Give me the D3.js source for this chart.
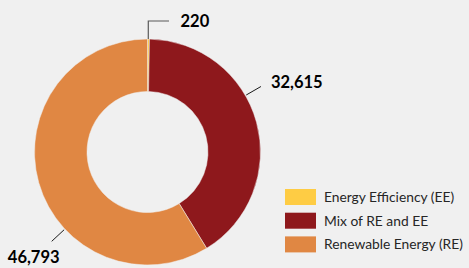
<!DOCTYPE html>
<html>
<head>
<meta charset="utf-8">
<script src="https://cdn.jsdelivr.net/npm/d3@7"></script>
<style>
  body { margin: 0; background: #f0f0f0; }
  svg { display: block; }
</style>
</head>
<body>
<div id="chart"></div>
<script>
'use strict';

// categories and values
var categories = ['Energy Efficiency (EE)', 'Mix of RE and EE', 'Renewable Energy (RE)'];
var values = [220, 32615, 46793];
var colors = ['#fecc44', '#8e181c', '#e08743'];

var width = 469, height = 268;
var cx = 147.5, cy = 152;
var outerR = 113, innerR = 60.5;

var svg = d3.select('#chart').append('svg')
  .attr('width', width)
  .attr('height', height);

var pie = d3.pie().sort(null).value(function(d) { return d; });
var arcs = pie(values);

var arc = d3.arc().innerRadius(innerR).outerRadius(outerR);

var g = svg.append('g').attr('transform', 'translate(' + cx + ',' + cy + ')');

g.selectAll('path').data(arcs)
  .enter()
  .append('path')
  .attr('d', arc)
  .attr('fill', function(d, i) { return colors[i]; })
  .attr('stroke', '#f0f0f0')
  .attr('stroke-width', 0.5);

// label leader lines: angle (deg) where the line leaves the ring
var labelAngles = [0.4, 60, 227];
var fmt = d3.format(',');

function pt(angleDeg, r) {
  var a = angleDeg * Math.PI / 180;
  return [r * Math.sin(a), -r * Math.cos(a)];
}

// small slice: elbow line going up then right
var p0 = pt(labelAngles[0], outerR);
g.append('polyline')
  .attr('points', [p0, [p0[0], p0[1] - 18], [21.5, p0[1] - 18]].join(' '))
  .attr('fill', 'none')
  .attr('stroke', '#595959')
  .attr('stroke-width', 1.2);
g.append('text')
  .attr('x', 33)
  .attr('y', p0[1] - 12.5)
  .attr('class', 'lbl')
  .text(fmt(values[0]));

// other slices: short radial lines
[1, 2].forEach(function(i) {
  var a = pt(labelAngles[i], outerR + 1);
  var b = pt(labelAngles[i], outerR + 18);
  g.append('line')
    .attr('x1', a[0]).attr('y1', a[1])
    .attr('x2', b[0]).attr('y2', b[1])
    .attr('stroke', '#1a1a1a')
    .attr('stroke-width', 1);
  var t = g.append('text').attr('class', 'lbl').text(fmt(values[i]));
  if (i === 1) {
    t.attr('x', b[0] + 10).attr('y', b[1] + 1.5);
  } else {
    t.attr('x', b[0] - 18).attr('y', b[1] + 22).attr('text-anchor', 'middle');
  }
});

svg.selectAll('text.lbl')
  .style('font-family', 'Lato, "Open Sans", sans-serif')
  .style('font-weight', 'bold')
  .style('font-size', '16.5px')
  .attr('fill', '#000');

// legend
var legend = svg.append('g').attr('transform', 'translate(285,189)');
var item = legend.selectAll('g').data(categories)
  .enter()
  .append('g')
  .attr('transform', function(d, i) { return 'translate(0,' + (i * 23.7) + ')'; });

item.append('rect')
  .attr('width', 31)
  .attr('height', 16)
  .attr('fill', function(d, i) { return colors[i]; });

item.append('text')
  .attr('x', 39)
  .attr('y', 13)
  .style('font-family', 'Lato, "Open Sans", sans-serif')
  .style('font-size', '13.8px')
  .attr('fill', '#262626')
  .text(function(d) { return d; });
</script>
</body>
</html>
